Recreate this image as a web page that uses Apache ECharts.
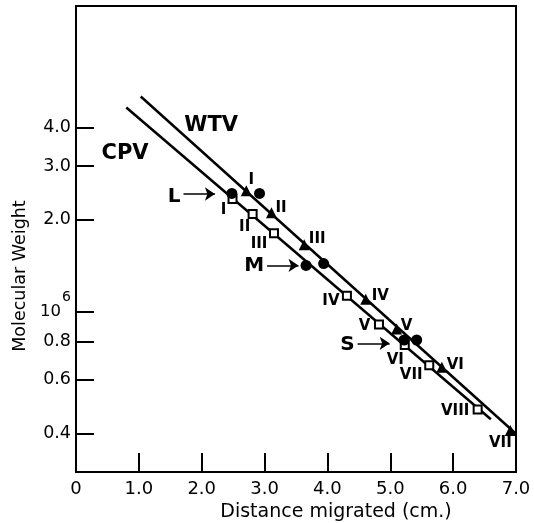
<!DOCTYPE html>
<html><head><meta charset="utf-8">
<script src="https://cdn.jsdelivr.net/npm/echarts@6/dist/echarts.min.js"></script>
<style>html,body{margin:0;padding:0;background:#fff}#c{width:534px;height:523px}</style>
</head><body><div id="c"></div>
<script>
const xTicks = [0, 1, 2, 3, 4, 5, 6, 7];
const yTicks = [0.4, 0.6, 0.8, 1, 2, 3, 4];
const wtvLineX = [1.03, 7.0];
const wtvLineY = [5.06, 0.40];
const cpvLineX = [0.80, 6.60];
const cpvLineY = [4.66, 0.446];
const wtvNames = ['I', 'II', 'III', 'IV', 'V', 'VI', 'VII'];
const wtvX = [2.71, 3.11, 3.63, 4.61, 5.10, 5.82, 6.91];
const wtvY = [2.49, 2.11, 1.66, 1.10, 0.88, 0.66, 0.41];
const cpvNames = ['I', 'II', 'III', 'IV', 'V', 'VI', 'VII', 'VIII'];
const cpvX = [2.49, 2.81, 3.15, 4.31, 4.82, 5.23, 5.62, 6.39];
const cpvY = [2.34, 2.09, 1.81, 1.13, 0.91, 0.78, 0.67, 0.48];
const refNames = ['L', 'L', 'M', 'M', 'S', 'S'];
const refX = [2.48, 2.92, 3.66, 3.94, 5.22, 5.42];
const refY = [2.44, 2.44, 1.42, 1.44, 0.81, 0.81];
const arrowNames = ['L', 'M', 'S'];
const arrowFromX = [1.71, 3.04, 4.48];
const arrowToX = [2.21, 3.54, 4.99];
const arrowY = [2.43, 1.42, 0.79];
const curveNames = ['WTV', 'CPV'];
const curveLabelX = [2.15, 0.78];
const curveLabelY = [4.08, 3.30];
// label placement (pixel offsets relative to each marker)
const wtvLabelOffset = [[5, -11], [9.5, -5], [13, -6], [14.5, -3], [10, -3], [13.5, -2], [-10, 13]];
const cpvLabelOffset = [[-9, 11.5], [-8, 13.5], [-15, 11], [-16, 5], [-14.5, 1.5], [-9.5, 15], [-18, 10], [-22.5, 2]];
const arrowLabelOffset = [[0, 3], [0, 0], [0, 1.5]];

const F = 'DejaVu Sans';
const pts = (xs, ys) => xs.map((x, i) => [x, ys[i]]);
const chart = echarts.init(document.getElementById('c'), null, {renderer: 'canvas'});
const romanLabel = {show: true, position: 'inside', formatter: '{b}', color: '#000', opacity: 1, fontFamily: F, fontWeight: 'bold', fontSize: 15};
const curveLabel = {show: true, position: 'inside', formatter: '{b}', color: '#000', fontFamily: F, fontWeight: 'bold', fontSize: 21};

chart.setOption({
  animation: false,
  backgroundColor: '#fff',
  grid: {left: 76, right: 18, top: 6, bottom: 51, show: true, borderColor: '#000', borderWidth: 2,
    containLabel: false, outerBoundsMode: 'none'},
  xAxis: {
    type: 'value', min: 0, max: 7, interval: 1,
    axisLine: {lineStyle: {color: '#000', width: 2}},
    axisTick: {inside: true, length: 19, lineStyle: {color: '#000', width: 2}},
    axisLabel: {color: '#000', fontFamily: F, fontSize: 18, margin: 8, showMinLabel: true, showMaxLabel: true,
      formatter: v => v === 0 ? '0' : v.toFixed(1)},
    splitLine: {show: false},
    name: 'Distance migrated (cm.)', nameLocation: 'middle', nameGap: 28,
    nameTextStyle: {color: '#000', fontFamily: F, fontSize: 19, padding: [0, 0, 0, 80]}
  },
  yAxis: {
    type: 'log', min: 0.3, max: 10,
    axisLine: {lineStyle: {color: '#000', width: 2}},
    axisTick: {inside: true, length: 18, customValues: yTicks, lineStyle: {color: '#000', width: 2}},
    axisLabel: {customValues: yTicks, color: '#000', fontFamily: F, fontSize: 17.5, margin: 5,
      formatter: v => Math.abs(v - 1) < 1e-9 ? '{a|10}{b|6}' : v.toFixed(1),
      rich: {a: {fontFamily: F, fontSize: 16.5, color: '#000'}, b: {fontFamily: F, fontSize: 14, color: '#000', padding: [0, 0, 29, 1]}}},
    splitLine: {show: false},
    name: 'Molecular Weight', nameLocation: 'middle', nameGap: 47, nameRotate: 90,
    nameTextStyle: {color: '#000', fontFamily: F, fontSize: 17.5, padding: [0, 74, 0, 0]}
  },
  series: [
    {type: 'line', name: curveNames[0], data: pts(wtvLineX, wtvLineY), symbol: 'none', silent: true,
      lineStyle: {color: '#000', width: 2.5}, z: 2,
      markPoint: {symbol: 'circle', symbolSize: 0, silent: true, label: curveLabel,
        data: [{name: curveNames[0], coord: [curveLabelX[0], curveLabelY[0]]}]}},
    {type: 'line', name: curveNames[1], data: pts(cpvLineX, cpvLineY), symbol: 'none', silent: true,
      lineStyle: {color: '#000', width: 2.5}, z: 2,
      markPoint: {symbol: 'circle', symbolSize: 0, silent: true, label: curveLabel,
        data: [{name: curveNames[1], coord: [curveLabelX[1], curveLabelY[1]]}]}},
    {type: 'scatter', name: 'WTV fractions', symbol: 'triangle', symbolSize: 11, z: 3,
      itemStyle: {color: '#000', opacity: 1}, label: romanLabel,
      data: wtvX.map((x, i) => ({value: [x, wtvY[i]], name: wtvNames[i], label: {offset: wtvLabelOffset[i]}}))},
    {type: 'scatter', name: 'CPV fractions', symbol: 'rect', symbolSize: 8, z: 3,
      itemStyle: {color: '#fff', borderColor: '#000', borderWidth: 2, opacity: 1}, label: romanLabel,
      data: cpvX.map((x, i) => ({value: [x, cpvY[i]], name: cpvNames[i], label: {offset: cpvLabelOffset[i]}}))},
    {type: 'scatter', name: 'Markers', symbol: 'circle', symbolSize: 11, z: 4,
      itemStyle: {color: '#000', opacity: 1},
      data: refX.map((x, i) => ({value: [x, refY[i]], name: refNames[i]})),
      markLine: {silent: true, symbol: ['none', 'arrow'], symbolSize: 10,
        lineStyle: {color: '#000', width: 1.5, type: 'solid', opacity: 1},
        label: {show: true, position: 'start', distance: 3, formatter: '{b}', color: '#000', fontFamily: F, fontWeight: 'bold', fontSize: 20},
        data: arrowNames.map((n, i) => [{name: n, coord: [arrowFromX[i], arrowY[i]], label: {offset: arrowLabelOffset[i]}}, {coord: [arrowToX[i], arrowY[i]]}])}}
  ]
});
</script></body></html>
